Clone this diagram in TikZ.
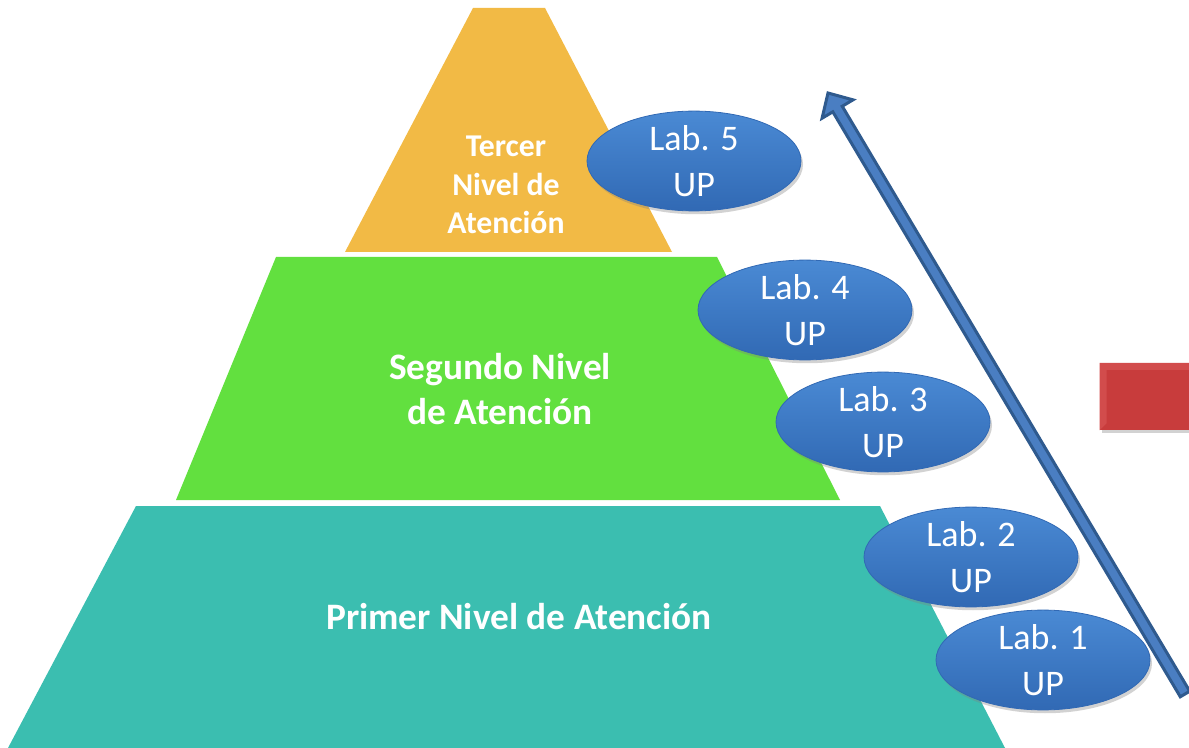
\documentclass[tikz,border=0pt]{standalone}
\usepackage{fontspec}
\setmainfont{Carlito}
\usetikzlibrary{calc,shadows,shapes.geometric,positioning}
\definecolor{tercer}{HTML}{F2BA45}
\definecolor{segundo}{HTML}{62E03F}
\definecolor{primer}{HTML}{3BBEB0}
\definecolor{labtop}{HTML}{4A8AD4}
\definecolor{labbottom}{HTML}{3169B4}
\definecolor{arrowfill}{HTML}{4A7EC2}
\definecolor{arrowdraw}{HTML}{2F5A8E}
\definecolor{boxred}{HTML}{C83C3C}
\definecolor{boxlight}{HTML}{D24C4C}

\begin{document}
\begin{tikzpicture}[%
    x=0.75pt,y=-0.75pt,%
    level/.style={text=white,font=\bfseries,align=center,inner sep=0pt},%
    lab/.style={ellipse,minimum width=160.5pt,minimum height=72pt,inner sep=0pt,%
      top color=labtop,bottom color=labbottom,draw=labbottom,line width=0.6pt,%
      drop shadow={shadow xshift=1.5pt,shadow yshift=-2.5pt,opacity=0.35},%
      text=white,align=center,font=\fontsize{27}{34}\selectfont}%
  ]
  \def\shaft{4.1pt}%
  \def\head{13.5pt}%

  % Frame
  \clip (0,0) rectangle (1189,748);%
  \fill[white] (0,0) rectangle (1189,748);%

  % Pyramid
  \fill[tercer] (473,8) -- (545,8) -- (672,252) -- (345,252) -- cycle;%
  \fill[segundo] (276,257) -- (717,257) -- (840,500) -- (176,500) -- cycle;%
  \fill[primer] (136,506) -- (880,506) -- (1005,748) -- (8,748) -- cycle;%

  % Level labels
  \node[level,font=\bfseries\fontsize{23.8}{29}\selectfont] (tercer) at (506,185) {Tercer\\Nivel de\\Atención};%
  \node[level,font=\bfseries\fontsize{28}{34}\selectfont] (segundo) at (500,389) {Segundo Nivel\\de Atención};%
  \node[level,font=\bfseries\fontsize{28}{34}\selectfont] (primer) at (519,617) {Primer Nivel de Atención};%

  % Labs
  \node[lab] (lab5) at (694,161) {Lab. 5\\UP};%
  \node[lab] (lab4) at (805,310) {Lab. 4\\UP};%
  \node[lab] (lab3) at (883,422) {Lab. 3\\UP};%
  \node[lab] (lab2) at (971,557) {Lab. 2\\UP};%
  \node[lab] (lab1) at (1043,660) {Lab. 1\\UP};%

  % Red box
  \node[draw=none,fill=boxred,minimum width=75pt,minimum height=50pt,inner sep=0pt,%
    drop shadow={shadow xshift=1.5pt,shadow yshift=-2.5pt,opacity=0.35}] (box) at (1150,396.5) {};%
  \fill[boxlight] (box.north west) -- (box.north east) -- ++(0,7) -- ($(box.north west)+(7,7)$) -- ($(box.south west)+(7,-7)$) -- (box.south west) -- cycle;%

  % Arrow
  \coordinate (tail) at (1185,694);%
  \coordinate (tip) at (828,93);%
  \coordinate (base) at ($(tip)!14pt!(tail)$);%
  \filldraw[fill=arrowfill,draw=arrowdraw,line width=2.25pt,line join=miter]%
    ($(tail)!\shaft!90:(tip)$) -- ($(base)!\shaft!90:(tip)$) -- ($(base)!\head!90:(tip)$) -- (tip)%
    -- ($(base)!\head!-90:(tip)$) -- ($(base)!\shaft!-90:(tip)$) -- ($(tail)!\shaft!-90:(tip)$) -- cycle;%
\end{tikzpicture}
\end{document}
